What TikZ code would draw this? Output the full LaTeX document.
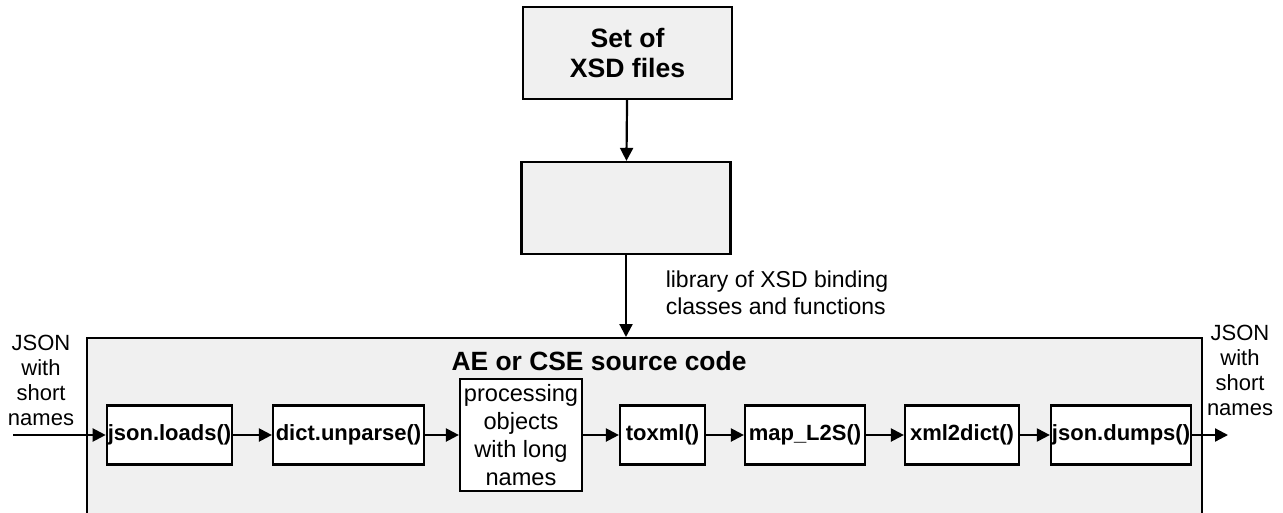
\documentclass[tikz,border=0pt]{standalone}
\usepackage{fontspec}
\setmainfont{Liberation Sans}
\usetikzlibrary{arrows.meta}
\definecolor{fondgris}{RGB}{240,240,240}

\begin{document}
\begin{tikzpicture}[x=0.5pt, y=-0.5pt, line width=1.1pt,
    boite/.style={draw, fill=white, inner xsep=0.5pt, minimum height=29.5pt, font=\fontsize{11}{12.5}\selectfont\bfseries},
    bloc/.style={draw, fill=fondgris, minimum width=104.5pt, minimum height=46pt},
    fleche/.style={-{Triangle[length=6.5pt,width=6.5pt]}},
    etiq/.style={align=center, font=\fontsize{11}{12.5}\selectfont}]
    \useasboundingbox (0,0) rectangle (1283,513);

    % Fichiers XSD et bibliotheque
    \node[bloc, align=center, font=\fontsize{13.3}{15}\selectfont\bfseries] (xsd) at (627.5,53) {Set of\\XSD files};
    \node[bloc] (lib) at (626,208) {};
    \draw[fleche] (xsd) -- (lib);

    % Le code source
    \node[draw, fill=fondgris, anchor=north west, minimum width=557.5pt, minimum height=115pt] (src) at (86,337) {};
    \node[font=\fontsize{13.2}{15}\selectfont\bfseries] (titre) at (599,361) {AE or CSE source code};
    \draw[fleche] (lib) -- (lib.south |- src.north);
    \node[etiq, align=left, anchor=west, font=\fontsize{11.5}{13.5}\selectfont] (libtxt) at (658,293) {library of XSD binding\\classes and functions};

    % Les etapes de traitement
    \node[boite, minimum width=62.5pt] (loads) at (169.5,435) {json.loads()};
    \node[boite, minimum width=75.5pt] (unparse) at (348.5,435) {dict.unparse()};
    \node[draw, fill=white, align=center, inner sep=1pt, minimum width=61pt, minimum height=56pt, font=\fontsize{11.8}{14}\selectfont] (traite) at (521,435) {processing\\objects\\with long\\names};
    \node[boite, minimum width=42.5pt] (toxml) at (662.5,435) {toxml()};
    \node[boite, minimum width=60pt] (l2s) at (805,435) {map\_L2S()};
    \node[boite, minimum width=57pt] (x2d) at (962,435) {xml2dict()};
    \node[boite, minimum width=70pt] (dumps) at (1121,435) {json.dumps()};

    % Entree et sortie JSON
    \coordinate (entree) at (13,435);
    \coordinate (sortie) at (1228,435);
    \node[etiq] (jsonin) at (41,380.5) {JSON\\with\\short\\names};
    \node[etiq] (jsonout) at (1240,370.5) {JSON\\with\\short\\names};

    % Les fleches
    \draw[fleche] (entree) -- (loads);
    \draw[fleche] (loads) -- (unparse);
    \draw[fleche] (unparse) -- (traite);
    \draw[fleche] (traite) -- (toxml);
    \draw[fleche] (toxml) -- (l2s);
    \draw[fleche] (l2s) -- (x2d);
    \draw[fleche] (x2d) -- (dumps);
    \draw[fleche] (dumps) -- (sortie);
\end{tikzpicture}
\end{document}
